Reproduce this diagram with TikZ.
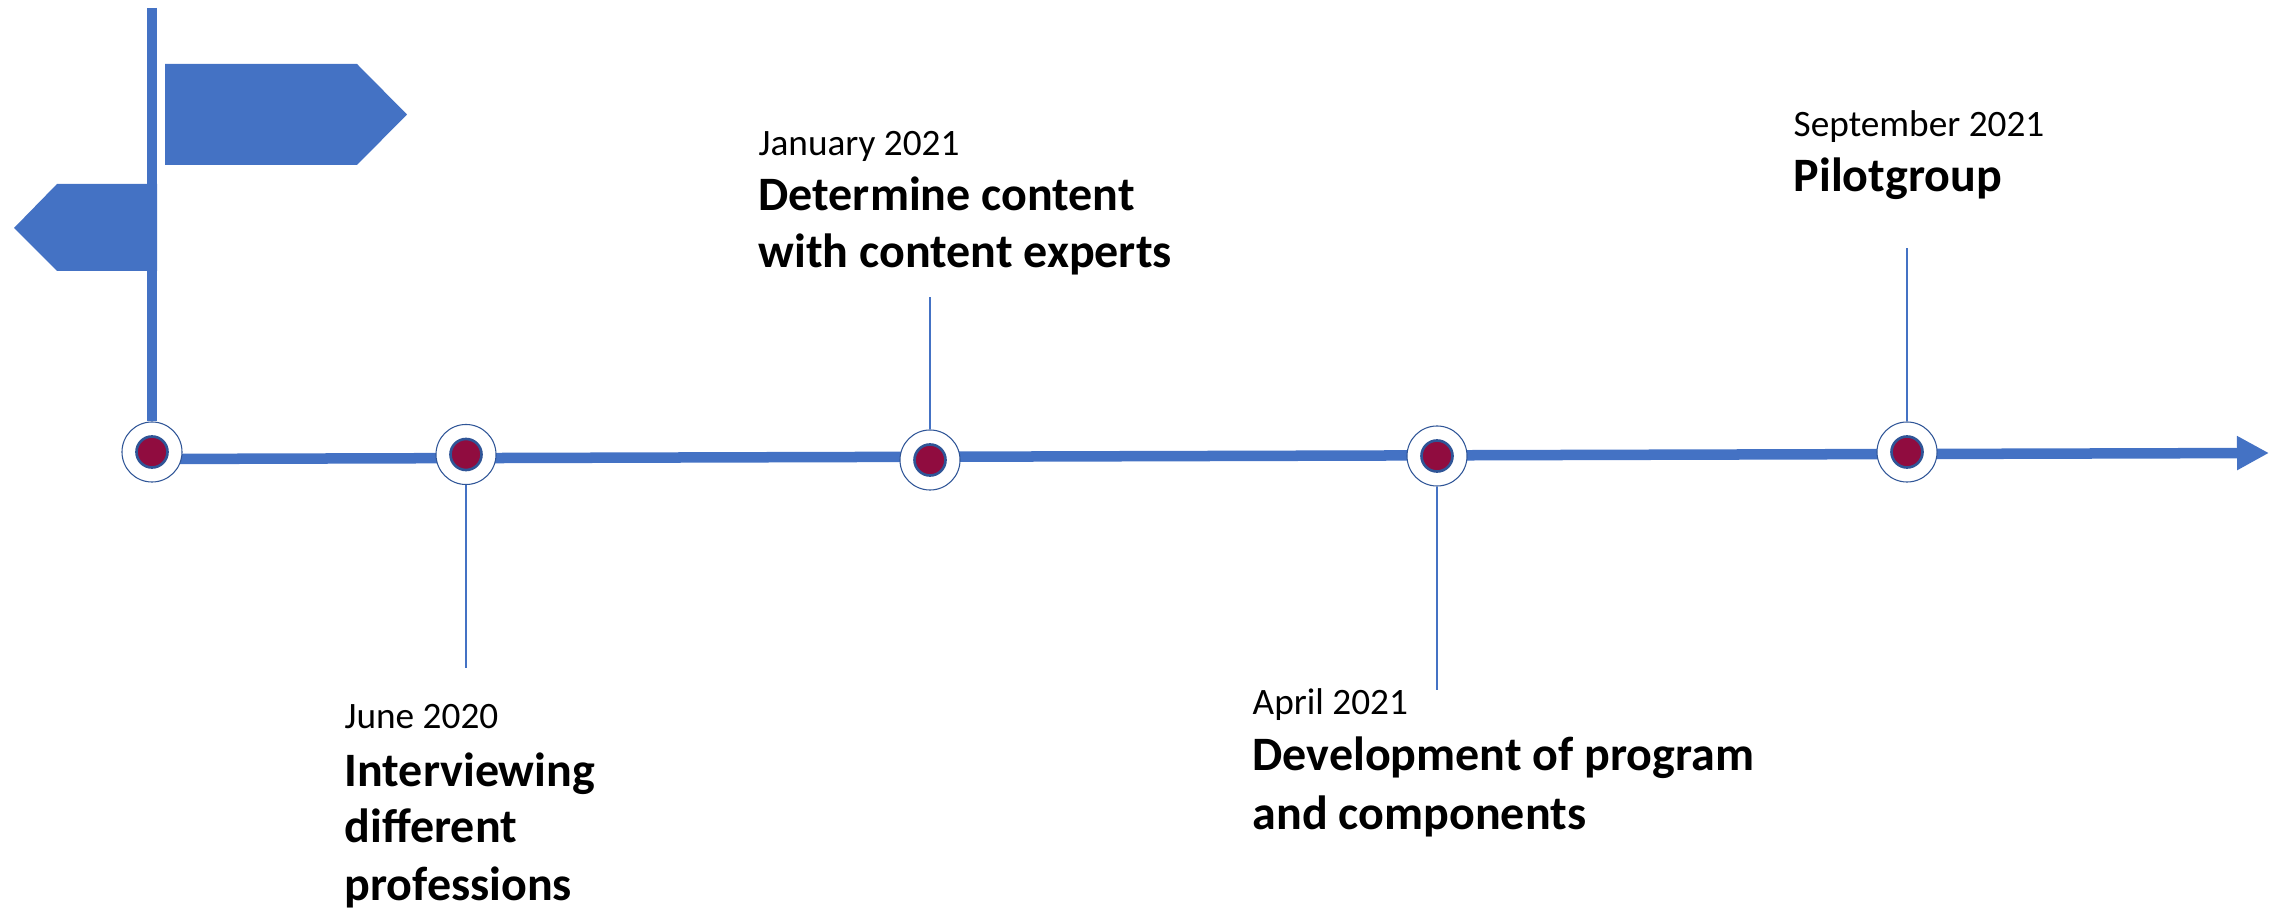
\documentclass[tikz,border=0pt]{standalone}
\usepackage{fontspec}
\setmainfont{Carlito}
\usetikzlibrary{arrows.meta,backgrounds}
\definecolor{roadblue}{HTML}{4472C4}
\definecolor{ringblue}{HTML}{2F5597}
\definecolor{dotred}{HTML}{900C3F}
\tikzset{
    ring/.style={circle, draw=ringblue, line width=0.3pt, fill=white, minimum size=0.6cm, inner sep=0pt},
    dot/.style={circle, draw=ringblue, line width=0.75pt, fill=dotred, minimum size=0.31cm, inner sep=0pt},
    stem/.style={draw=roadblue, line width=0.35pt},
    datelabel/.style={anchor=base west, inner sep=0pt, font=\fontsize{10.6}{12}\selectfont},
    titlelabel/.style={anchor=base west, inner sep=0pt, align=left, font=\fontsize{13.65}{16.2}\selectfont\bfseries},
}
\begin{document}
\begin{tikzpicture}[x=0.01cm, y=0.01cm]
    \useasboundingbox (0, 0) rectangle (2285, 909);

    \foreach \name/\x/\y in {a/152/457, b/466/454.5, c/930/449, d/1437/453, e/1907/457} {
        \node[ring] (ring\name) at (\x, \y) {};
        \node[dot] (dot\name) at (ring\name) {};
    }

    \coordinate (posttop) at (152, 901);
    \coordinate (axisstart) at (152, 450);
    \coordinate (axisend) at (2269, 456);
    \coordinate (stemb) at (466, 241);
    \coordinate (stemc) at (930, 612);
    \coordinate (stemd) at (1437, 219);
    \coordinate (steme) at (1907, 661);

    \begin{pgfonlayer}{background}
        \draw[roadblue, line width=0.105cm, -{Triangle[length=0.32cm, width=0.32cm]}] (axisstart) -- (axisend);
    \end{pgfonlayer}
    \draw[roadblue, line width=0.1cm] (posttop) -- (ringa);

    % signs on the post
    \fill[roadblue] (165, 845) -- (357, 845) -- (407, 794.5) -- (357, 744) -- (165, 744) -- cycle;
    \fill[roadblue] (157, 725) -- (57, 725) -- (14, 681) -- (57, 638) -- (157, 638) -- cycle;

    \draw[stem] (ringb) -- (stemb);
    \draw[stem] (ringc) -- (stemc);
    \draw[stem] (ringd) -- (stemd);
    \draw[stem] (ringe) -- (steme);

    \node[datelabel] (dateb) at (344, 180) {June 2020};
    \node[titlelabel] (titleb) at (344, 123) {Interviewing};
    \node[titlelabel] (titleb2) at (344, 67) {different};
    \node[titlelabel] (titleb3) at (344, 9) {professions};

    \node[datelabel] (datec) at (758, 753) {January 2021};
    \node[titlelabel] (titlec) at (758, 698) {Determine content};
    \node[titlelabel] (titlec2) at (758, 641) {with content experts};

    \node[datelabel] (dated) at (1252, 194) {April 2021};
    \node[titlelabel] (titled) at (1252, 139) {Development of program};
    \node[titlelabel] (titled2) at (1252, 80) {and components};

    \node[datelabel] (datee) at (1793, 772) {September 2021};
    \node[titlelabel] (titlee) at (1793, 717) {Pilotgroup};
\end{tikzpicture}
\end{document}
